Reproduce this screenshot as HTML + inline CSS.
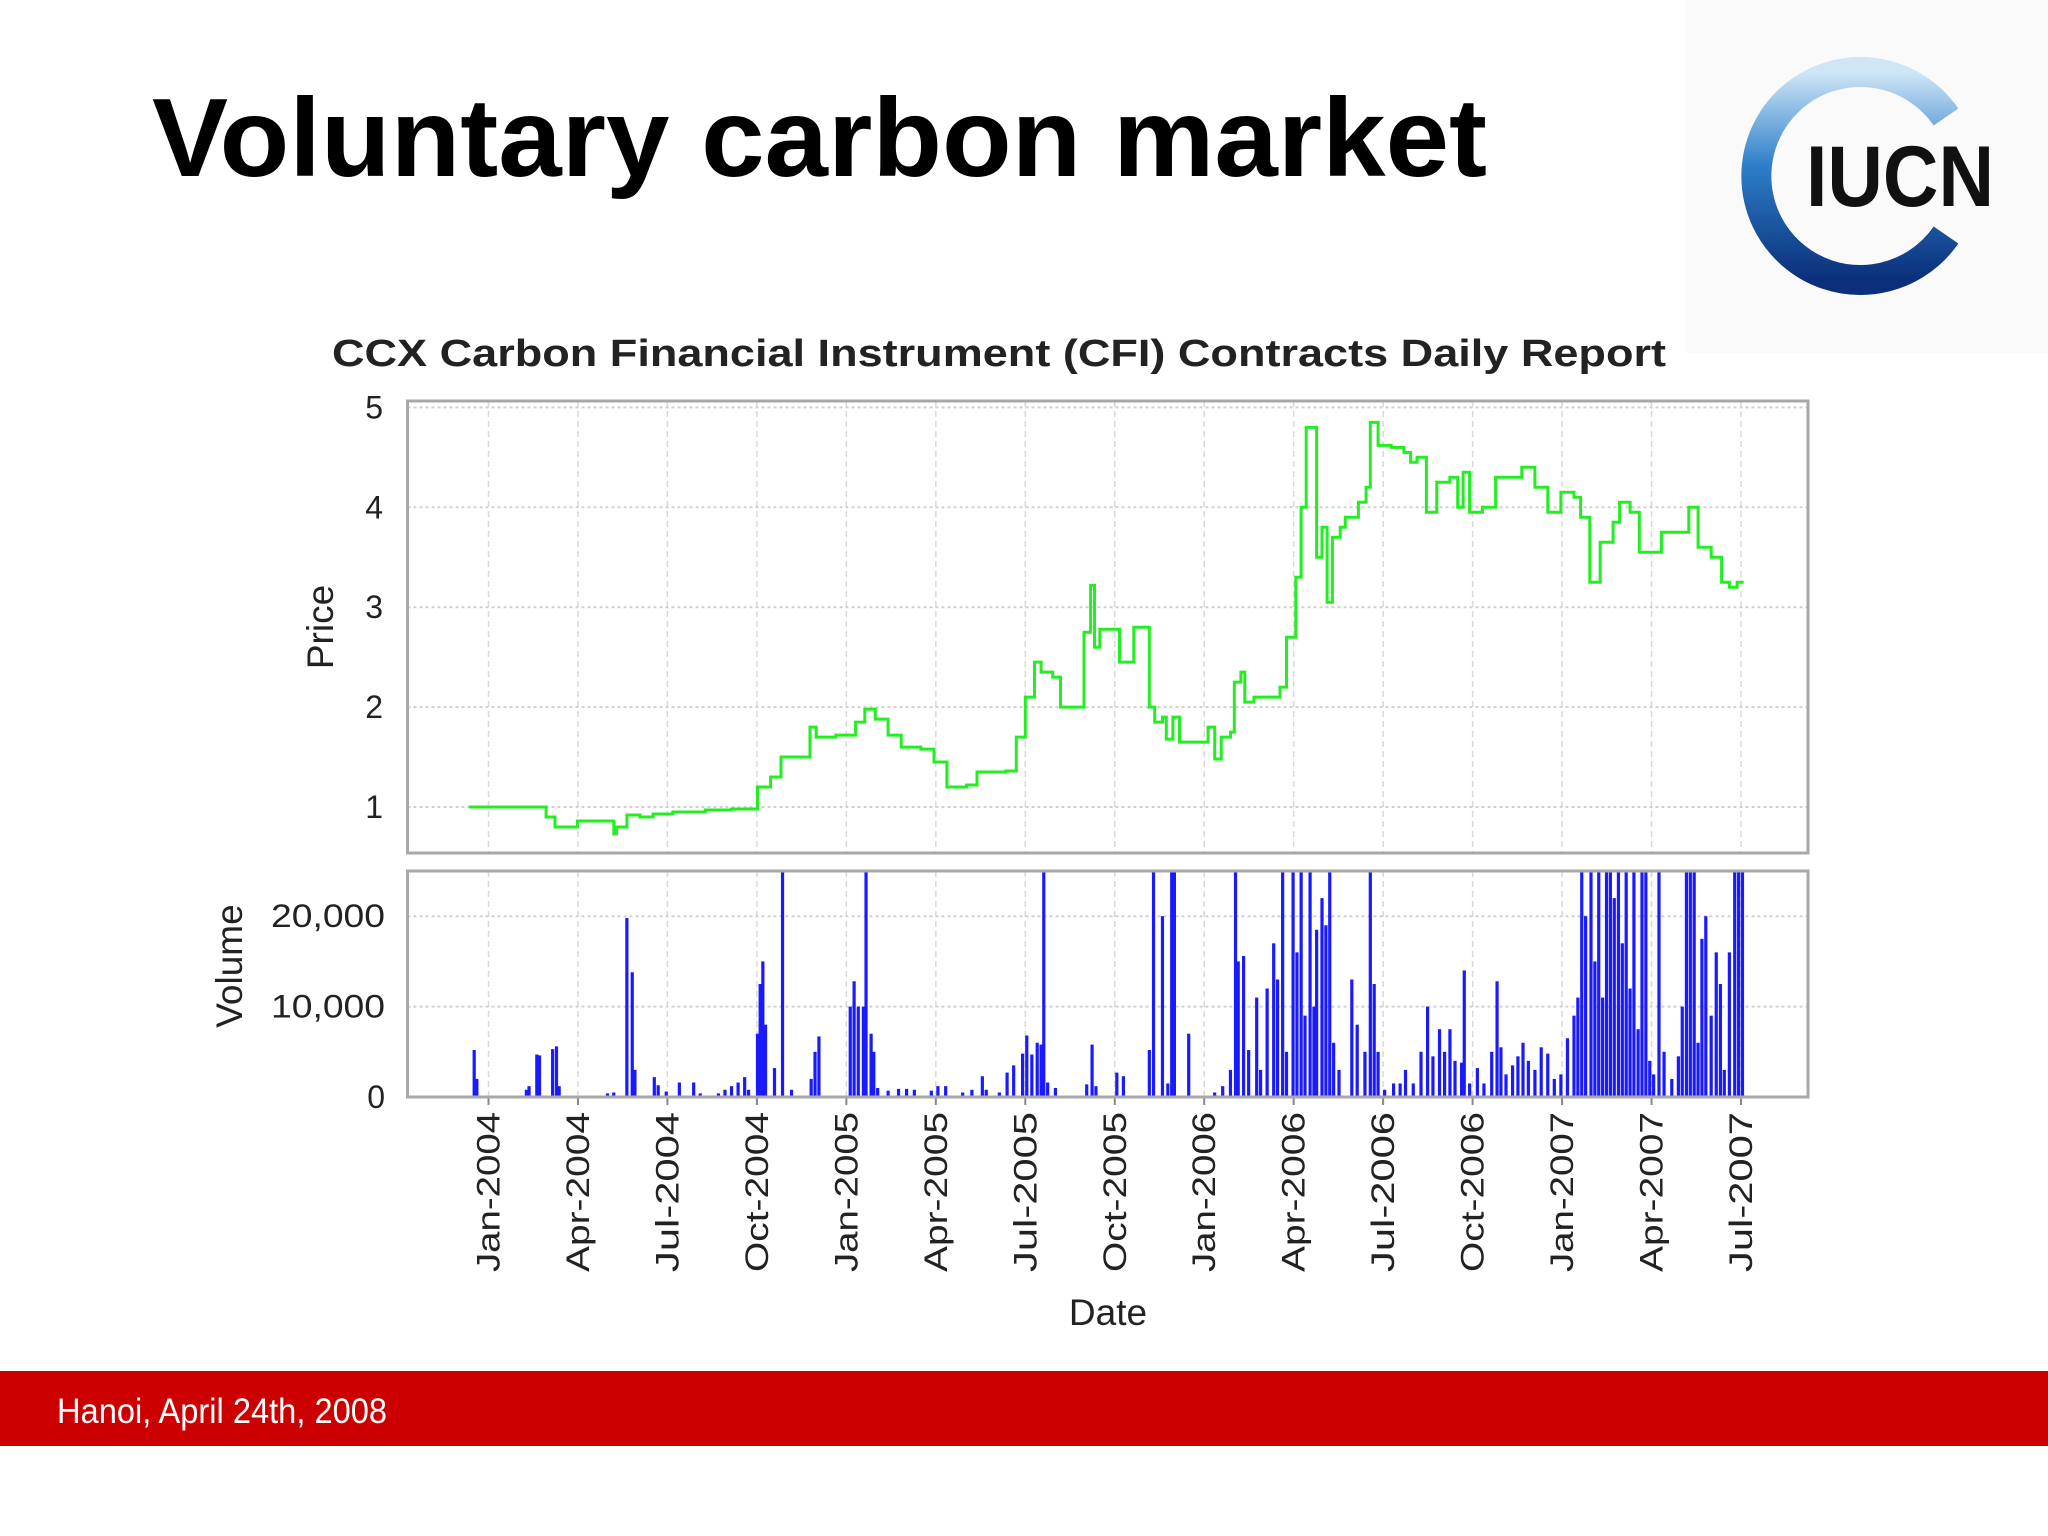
<!DOCTYPE html>
<html><head><meta charset="utf-8"><style>
html,body{margin:0;padding:0;background:#fff}
svg{display:block}
text{font-family:"Liberation Sans","DejaVu Sans",sans-serif}
</style></head><body>
<svg id="root" width="2048" height="1536" viewBox="0 0 2048 1536" xmlns="http://www.w3.org/2000/svg">
<defs>
<linearGradient id="ringg" x1="0" y1="0" x2="0" y2="1">
<stop offset="0" stop-color="#cfe6f7"/><stop offset="0.45" stop-color="#2c7fc8"/><stop offset="1" stop-color="#0b2f7a"/>
</linearGradient>
</defs>
<rect x="1685" y="0" width="363" height="353" fill="#fafafa"/>
<text x="152" y="176" font-size="111" font-weight="bold" fill="#000" textLength="1335" lengthAdjust="spacingAndGlyphs">Voluntary carbon market</text>
<g>
<path d="M1946,117 A104,104 0 1 0 1946,235" fill="none" stroke="url(#ringg)" stroke-width="30"/>
<text x="1806" y="206" font-size="86" font-weight="bold" fill="#111" textLength="188" lengthAdjust="spacingAndGlyphs">IUCN</text>
</g>
<text x="999" y="366" font-size="38" font-weight="bold" fill="#222" text-anchor="middle" font-family="DejaVu Sans, sans-serif" textLength="1334" lengthAdjust="spacingAndGlyphs">CCX Carbon Financial Instrument (CFI) Contracts Daily Report</text>
<g id="chart"></g>
<rect x="0" y="1371" width="2048" height="75" fill="#cc0000"/>
<text x="57" y="1423" font-size="35" fill="#fff" textLength="330" lengthAdjust="spacingAndGlyphs">Hanoi, April 24th, 2008</text>
</svg>
<script>
// months since Jan-2004 and prices
const priceMonths=[-0.66,1.14,1.93,2.23,2.89,2.98,4.12,4.2,4.29,4.64,5.08,5.52,6.18,7.27,8.15,8.94,9.02,9.46,9.81,10.6,10.78,10.99,11.65,12.31,12.62,12.97,13.4,13.84,14.5,14.94,15.37,16.03,16.38,17.35,17.7,18.0,18.31,18.53,18.92,19.18,19.89,19.97,20.19,20.32,20.5,21.07,21.16,21.55,21.64,22.08,22.16,22.34,22.6,22.73,22.95,23.17,23.92,24.13,24.35,24.57,24.88,25.01,25.23,25.36,25.67,26.33,26.54,26.76,27.07,27.25,27.42,27.64,27.77,27.95,28.12,28.3,28.56,28.73,29.17,29.43,29.57,29.83,30.27,30.7,30.92,31.14,31.45,31.8,32.24,32.5,32.68,32.9,33.33,33.77,34.21,34.65,35.09,35.52,35.96,36.4,36.62,36.93,37.28,37.71,37.93,38.28,38.59,39.03,39.33,39.9,40.25,40.56,41.0,41.35,41.61,41.87,42.09];
const priceValues=[1.0,1.0,0.9,0.8,0.8,0.86,0.86,0.73,0.8,0.92,0.9,0.93,0.95,0.97,0.98,0.98,1.2,1.3,1.5,1.5,1.8,1.7,1.72,1.85,1.98,1.88,1.72,1.6,1.58,1.45,1.2,1.22,1.35,1.36,1.7,2.1,2.45,2.35,2.3,2.0,2.0,2.75,3.22,2.6,2.78,2.78,2.45,2.45,2.8,2.8,2.0,1.85,1.9,1.68,1.9,1.65,1.65,1.8,1.48,1.7,1.75,2.25,2.35,2.05,2.1,2.1,2.2,2.7,3.3,4.0,4.8,4.8,3.5,3.8,3.05,3.7,3.8,3.9,4.05,4.2,4.85,4.62,4.6,4.55,4.45,4.5,3.95,4.25,4.3,4.0,4.35,3.95,4.0,4.3,4.3,4.4,4.2,3.95,4.15,4.1,3.9,3.25,3.65,3.85,4.05,3.95,3.55,3.55,3.75,3.75,4.0,3.6,3.5,3.25,3.2,3.25,3.25];
const volMonths=[-0.48,-0.39,1.27,1.36,1.62,1.71,2.15,2.28,2.37,3.99,4.2,4.64,4.82,4.91,5.56,5.69,5.96,6.4,6.88,7.1,7.71,7.93,8.15,8.37,8.59,8.72,9.02,9.11,9.2,9.29,9.59,9.86,10.16,10.82,10.95,11.08,12.13,12.26,12.4,12.57,12.66,12.83,12.92,13.05,13.4,13.75,14.02,14.28,14.85,15.07,15.33,15.9,16.21,16.56,16.69,17.13,17.39,17.61,17.91,18.05,18.22,18.4,18.53,18.62,18.75,19.01,20.06,20.24,20.37,21.07,21.29,22.16,22.3,22.6,22.78,22.91,23.0,23.48,24.35,24.62,24.88,25.05,25.14,25.32,25.49,25.76,25.89,26.11,26.33,26.46,26.63,26.76,26.98,27.11,27.25,27.38,27.55,27.68,27.77,27.95,28.08,28.21,28.34,28.52,28.95,29.13,29.39,29.57,29.7,29.83,30.05,30.35,30.57,30.75,31.01,31.27,31.49,31.67,31.89,32.06,32.24,32.41,32.63,32.72,32.9,33.16,33.38,33.64,33.82,33.95,34.12,34.34,34.52,34.69,34.87,35.09,35.3,35.52,35.74,35.96,36.18,36.4,36.53,36.66,36.79,36.97,37.1,37.23,37.36,37.49,37.62,37.75,37.89,38.02,38.15,38.28,38.41,38.55,38.68,38.81,38.94,39.07,39.25,39.42,39.68,39.9,40.03,40.17,40.3,40.43,40.56,40.69,40.82,41.0,41.17,41.31,41.44,41.61,41.79,41.92,42.05];
const volValues=[5200,2000,800,1200,4700,4600,5300,5600,1200,400,500,19800,13800,3000,2200,1300,600,1600,1600,400,400,800,1200,1600,2200,800,7000,12500,15000,8000,3200,25000,800,2000,5000,6700,10000,12800,10000,10000,25000,7000,5000,1000,700,900,900,800,700,1200,1200,500,800,2300,800,500,2700,3500,4800,6800,4700,6000,5800,25000,1600,1000,1400,5800,1200,2700,2300,5200,25000,20000,1500,25000,25000,7000,500,1200,3000,25000,15000,15600,5200,11000,3000,12000,17000,13000,25000,5000,25000,16000,25000,9000,25000,10000,18500,22000,19000,25000,6000,3000,13000,8000,5000,25000,12500,5000,800,1500,1500,3000,1500,5000,10000,4500,7500,5000,7500,4000,3800,14000,1500,3200,1500,5000,12800,5500,2500,3500,4500,6000,4000,3000,5500,4800,2000,2500,6500,9000,11000,25000,20000,25000,15000,25000,11000,25000,25000,22000,25000,17000,25000,12000,25000,7500,25000,25000,4000,2500,25000,5000,2000,4500,10000,25000,25000,25000,6000,17500,20000,9000,16000,12500,3000,16000,25000,25000,25000];
const tickMonths=[0,3,6,9,12,15,18,21,24,27,30,33,36,39,42];
const tickLabels=["Jan-2004","Apr-2004","Jul-2004","Oct-2004","Jan-2005","Apr-2005","Jul-2005","Oct-2005","Jan-2006","Apr-2006","Jul-2006","Oct-2006","Jan-2007","Apr-2007","Jul-2007"];
const priceTicks=[1,2,3,4,5];
const volTicks=[0,10000,20000];
const volTickLabels=["0","10,000","20,000"];

const NS="http://www.w3.org/2000/svg";
const g=document.getElementById('chart');
function mk(tag,attrs,parent){const e=document.createElementNS(NS,tag);for(const k in attrs)e.setAttribute(k,attrs[k]);(parent||g).appendChild(e);return e;}
const L=407.5,R=1808;
const X=m=>488.5+m*(1741-488.5)/42;
const PT=401,PB=853, VT=871,VB=1097;
const YP=p=>807-(p-1)*99.9;
const VMAX=25000;
const YV=v=>VB-Math.min(v,VMAX)/VMAX*(VB-VT);

let e;
e=mk('rect',{x:L,y:PT,width:R-L,height:PB-PT,fill:'#fff'});


e=mk('rect',{x:L,y:VT,width:R-L,height:VB-VT,fill:'#fff'});


tickMonths.forEach((m,i)=>{
  e=mk('line',{x1:X(m),x2:X(m),y1:PT,y2:PB,stroke:'#d8d8d8','stroke-width':1.5,'stroke-dasharray':'6,4'});
  
  
  e=mk('line',{x1:X(m),x2:X(m),y1:VT,y2:VB,stroke:'#d8d8d8','stroke-width':1.5,'stroke-dasharray':'6,4'});
  
  
  e=mk('line',{x1:X(m),x2:X(m),y1:VB,y2:VB+8,stroke:'#888','stroke-width':2});
  
  
  const t=mk('text',{x:0,y:0,'font-size':32,fill:'#222','text-anchor':'end',transform:`translate(${X(m)+11},1112) rotate(-90)`,'font-family':'DejaVu Sans, sans-serif',textLength:160,lengthAdjust:'spacingAndGlyphs'});
  t.textContent=tickLabels[i];
  
  
});
priceTicks.forEach(p=>{
  e=mk('line',{x1:L,x2:R,y1:YP(p),y2:YP(p),stroke:'#d0d0d0','stroke-width':2,'stroke-dasharray':'3,3'});
  
  
  const t=mk('text',{x:383,y:YP(p)+11,'font-size':32,fill:'#222','text-anchor':'end','font-family':'DejaVu Sans, sans-serif'});
  t.textContent=p;
  
  
});
volTicks.forEach((v,i)=>{
  e=mk('line',{x1:L,x2:R,y1:YV(v),y2:YV(v),stroke:'#d0d0d0','stroke-width':2,'stroke-dasharray':'3,3'});
  
  
  const attrs={x:385,y:YV(v)+11,'font-size':32,fill:'#222','text-anchor':'end','font-family':'DejaVu Sans, sans-serif'};
  if(volTickLabels[i].length>2){attrs.textLength=114;attrs.lengthAdjust='spacingAndGlyphs';}
  const t=mk('text',attrs);
  t.textContent=volTickLabels[i];
  
  
});
let d='';
priceMonths.forEach((m,i)=>{
  if(i===0) d+=`M${X(m).toFixed(1)},${YP(priceValues[i]).toFixed(1)}`;
  else d+=` H${X(m).toFixed(1)} V${YP(priceValues[i]).toFixed(1)}`;
});
e=mk('path',{d:d,fill:'none',stroke:'#22ee22','stroke-width':3,'stroke-linejoin':'miter'});


volMonths.forEach((m,i)=>{
  const y=YV(volValues[i]);
  const b=mk('rect',{x:X(m)-1.6,y:y,width:3.2,height:VB-y,fill:'#1a1aff'});
  
  
});
e=mk('rect',{x:L,y:PT,width:R-L,height:PB-PT,fill:'none',stroke:'#a8a8a8','stroke-width':3});


e=mk('rect',{x:L,y:VT,width:R-L,height:VB-VT,fill:'none',stroke:'#a8a8a8','stroke-width':3});


let t=mk('text',{x:0,y:0,'font-size':37,fill:'#222','text-anchor':'middle',transform:'translate(333,627) rotate(-90)','font-family':'DejaVu Sans, sans-serif'});
t.textContent='Price';


t=mk('text',{x:0,y:0,'font-size':37,fill:'#222','text-anchor':'middle',transform:'translate(242,966) rotate(-90)','font-family':'DejaVu Sans, sans-serif'});
t.textContent='Volume';


t=mk('text',{x:1108,y:1325,'font-size':37,fill:'#222','text-anchor':'middle','font-family':'DejaVu Sans, sans-serif'});
t.textContent='Date';


</script>
</body></html>
